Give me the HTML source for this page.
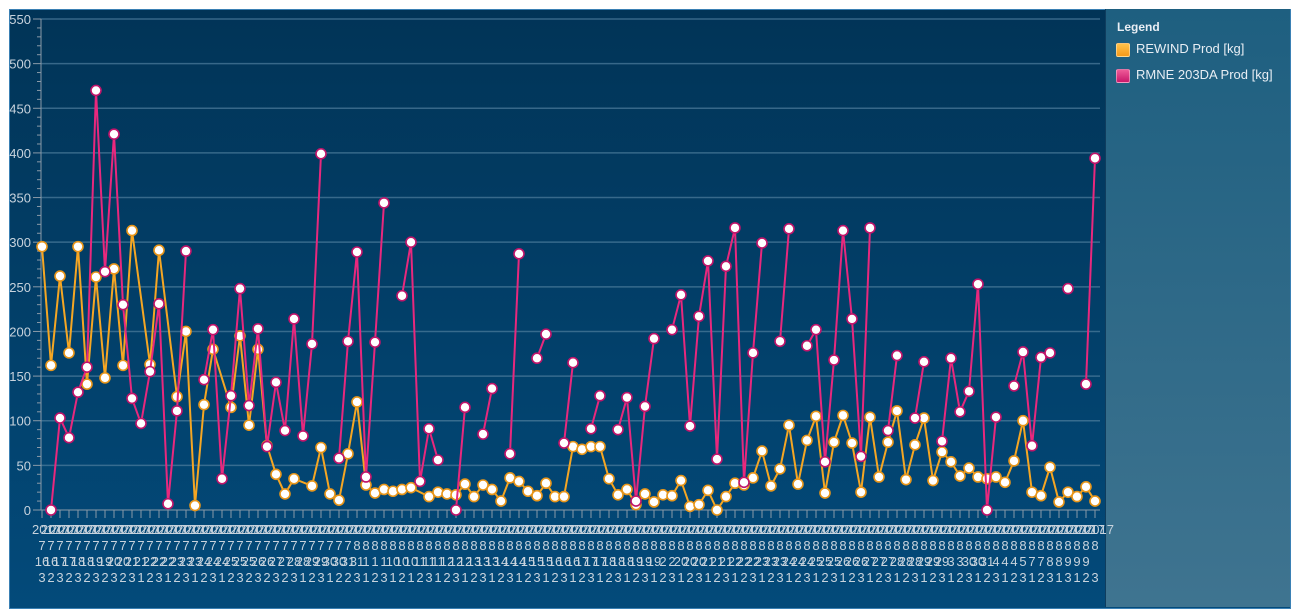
<!DOCTYPE html>
<html><head><meta charset="utf-8"><style>
html,body{margin:0;padding:0;background:#fff;width:1294px;height:612px;overflow:hidden;font-family:"Liberation Sans",sans-serif}
#wrap{position:absolute;left:9px;top:9px;width:1280px;height:598px;border:1px solid #3a80b4;background:linear-gradient(#013457,#034a7a)}
#legend{position:absolute;left:1105px;top:9px;width:184px;height:598px;background:linear-gradient(#1e5f80,#3f7490);border-left:1px solid #0f3d5e}
.lt{position:absolute;color:#e8eef4;font-size:13px}
</style></head><body>
<div id="wrap"></div>
<div id="legend">
 <div class="lt" style="left:11px;top:11px;font-weight:bold;font-size:12px">Legend</div>
 <div style="position:absolute;left:10px;top:33px">
  <div style="position:absolute;left:0;top:1px;width:12px;height:12px;border:1px solid #fff6;border-radius:2px;background:linear-gradient(#ffc24a,#f59a1a)"></div>
  <div class="lt" style="left:20px;top:-1px;white-space:nowrap">REWIND Prod [kg]</div></div>
 <div style="position:absolute;left:10px;top:59px">
  <div style="position:absolute;left:0;top:1px;width:12px;height:12px;border:1px solid #fff6;border-radius:2px;background:linear-gradient(#ee5a98,#c8186a)"></div>
  <div class="lt" style="left:20px;top:-1px;white-space:nowrap">RMNE 203DA Prod [kg]</div></div>
</div>
<svg id="chart" width="1294" height="612" style="position:absolute;left:0;top:0"></svg>
<script>
const yTicks=[0,50,100,150,200,250,300,350,400,450,500,550];
const rewind=[295,162,262,176,295,141,261,148,270,162,313,null,163,291,null,127,200,5,118,180,null,115,195,95,180,72,40,18,35,null,27,70,18,11,63,121,28,19,23,21,23,25,null,15,20,18,17,29,15,28,23,10,36,32,21,16,30,15,15,71,68,71,71,35,17,23,6,18,9,17,16,33,4,6,22,0,15,30,28,36,66,27,46,95,29,78,105,19,76,106,75,20,104,37,76,111,34,73,103,33,65,54,38,47,37,35,37,31,55,100,20,16,48,9,20,15,26,10];
const rmne=[null,0,103,81,132,160,470,267,421,230,125,97,155,231,7,111,290,null,146,202,35,128,248,117,203,71,143,89,214,83,186,399,null,58,189,289,37,188,344,null,240,300,32,91,56,null,0,115,null,85,136,null,63,287,null,170,197,null,75,165,null,91,128,null,90,126,10,116,192,null,202,241,94,217,279,57,273,316,31,176,299,null,189,315,null,184,202,54,168,313,214,60,316,null,89,173,null,103,166,null,77,170,110,133,253,0,104,null,139,177,72,171,176,null,248,null,141,394];
const months=("7".repeat(35)+"8".repeat(83)).split("");
const days=[16,16,17,17,18,18,19,19,20,20,21,21,22,22,22,23,23,23,24,24,24,25,25,25,26,26,27,27,28,28,29,29,30,30,31,31,1,1,1,10,10,10,11,11,11,12,12,12,13,13,13,14,14,14,15,15,15,16,16,16,17,17,17,18,18,18,19,19,19,2,2,20,20,20,21,21,21,22,22,22,23,23,23,24,24,24,25,25,25,26,26,26,27,27,27,28,28,28,29,29,29,3,3,30,30,31,4,4,4,5,7,7,8,8,9,9,9];
const shifts=("32323232323123123123123232323123122312312"+"123123123123123123123123123123123123123123123123123123123123123123"+"12312313123").split("");
const NS="http://www.w3.org/2000/svg";
const svg=document.getElementById('chart');
const X0=42,DX=9,Y0=510,Y1=19,YMAX=550;
function xs(i){return X0+i*DX;}
function ys(v){return Y0-(v/YMAX)*(Y0-Y1);}
function mk(t,a,p){const e=document.createElementNS(NS,t);for(const k in a)e.setAttribute(k,a[k]);(p||svg).appendChild(e);return e;}
for(let v=0;v<=YMAX;v+=10){
  const y=ys(v);
  const major=v%50===0;
  const t=mk('line',{x1:major?33:37,x2:41,y1:y,y2:y,stroke:'#8a9aa8','stroke-width':1});
  
  
}
yTicks.forEach(v=>{
  const y=ys(v);
  if(v>0){const g=mk('line',{x1:41,x2:1100,y1:y,y2:y,stroke:'#4f7d9c','stroke-opacity':0.7,'stroke-width':1.5});
  
  }
  const t=mk('text',{x:31,y:y+5,'text-anchor':'end',fill:'#c8d3dd','font-size':13,'font-family':'Liberation Sans, sans-serif'});
  t.textContent=v;
  
  
});
const ya=mk('line',{x1:41,x2:41,y1:Y1,y2:Y0,stroke:'#8a9aa8','stroke-width':1});


const xa=mk('line',{x1:41,x2:1100,y1:Y0,y2:Y0,stroke:'#8a9aa8','stroke-width':1});


for(let i=0;i<rewind.length;i++){
  const x=xs(i);
  const tk=mk('line',{x1:x,x2:x,y1:Y0,y2:Y0+8,stroke:'#8a9aa8','stroke-width':1});
  
  
  const rows=['2017',months[i]||'',String(days[i]||''),shifts[i]||''];
  rows.forEach((s,r)=>{
    const t=mk('text',{x:r===0?x-10:x,y:534+r*16,'text-anchor':r===0?'start':'middle',fill:'#c8d3dd','font-size':13,'font-family':'Liberation Sans, sans-serif'});
    t.textContent=s;
    
    
  });
}
function drawSeries(data,color,stroke,name){
  let segs=[],cur=[];
  data.forEach((v,i)=>{ if(v===null){ if(cur.length)segs.push(cur);cur=[];} else cur.push([xs(i),ys(v)]); });
  if(cur.length)segs.push(cur);
  segs.forEach(s=>{ if(s.length>1){
    const p=mk('polyline',{points:s.map(q=>q.join(',')).join(' '),fill:'none',stroke:color,'stroke-width':2,'stroke-linejoin':'round'});
    
    
  }});
  data.forEach((v,i)=>{ if(v===null)return;
    const c=mk('circle',{cx:xs(i),cy:ys(v),r:5,fill:'#fff',stroke:stroke,'stroke-width':1.6});
    
    
  });
}
(function(){
  const pts=[];rewind.forEach((v,i)=>{if(v!==null)pts.push([xs(i),ys(v)]);});
  const p=mk('polyline',{points:pts.map(q=>q.join(',')).join(' '),fill:'none',stroke:'#f5a623','stroke-width':2,'stroke-linejoin':'round'});
  
  
  rewind.forEach((v,i)=>{ if(v===null)return;
    const c=mk('circle',{cx:xs(i),cy:ys(v),r:5,fill:'#fff',stroke:'#e8961a','stroke-width':1.6});
    
    
  });
})();
drawSeries(rmne,'#e8287d','#c0146a','rmne');
</script>
</body></html>
